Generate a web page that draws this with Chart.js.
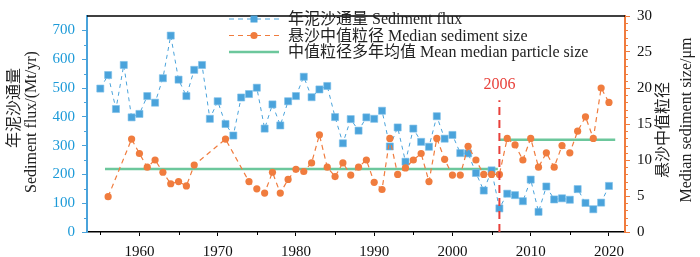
<!DOCTYPE html>
<html><head><meta charset="utf-8">
<script src="https://cdn.jsdelivr.net/npm/chart.js@4.4.0/dist/chart.umd.min.js"></script>
<style>html,body{margin:0;padding:0;background:#fff;}#wrap{width:700px;height:257px;}</style>
</head><body><div id="wrap"><canvas id="c" width="700" height="257"></canvas></div>
<script>
// ---- data ----
const years = [1955,1956,1957,1958,1959,1960,1961,1962,1963,1964,1965,1966,1967,1968,1969,1970,1971,1972,1973,1974,1975,1976,1977,1978,1979,1980,1981,1982,1983,1984,1985,1986,1987,1988,1989,1990,1991,1992,1993,1994,1995,1996,1997,1998,1999,2000,2001,2002,2003,2004,2005,2006,2007,2008,2009,2010,2011,2012,2013,2014,2015,2016,2017,2018,2019,2020];
const sedimentFlux = [498,545,427,580,398,410,472,449,534,682,529,472,563,580,393,454,375,335,467,479,501,359,443,370,454,472,539,468,495,507,399,308,392,352,398,393,421,297,363,244,359,313,296,402,324,337,274,273,205,144,214,82,133,128,107,182,70,158,113,117,112,149,101,79,102,160];
const medianSize = [null,4.9,null,null,12.9,10.9,9.0,10.0,8.3,6.7,7.0,6.4,9.3,null,null,null,12.9,null,null,7.0,6.0,5.4,8.3,5.4,7.3,8.7,8.4,9.6,13.5,9.0,7.7,9.6,7.9,9.0,10.0,6.9,5.9,13.0,8.0,8.9,10.0,10.9,7.0,13.0,10.1,7.9,7.9,11.9,10.0,8.0,8.0,8.0,13.0,12.1,10.0,13.0,9.0,11.0,9.0,12.0,11.0,14.0,16.0,13.0,20.0,18.0];
const meanEarlyYears = [1955.6, 2005.8];
const meanEarlyValue = 8.75;
const meanLateYears = [2006, 2020.8];
const meanLateValue = 12.8;
const markYear = 2006;
const markRange = [0, 18.3];
const xTickYears = [1960,1970,1980,1990,2000,2010,2020];
const leftTicks = [0,100,200,300,400,500,600,700];
const rightTicks = [0,5,10,15,20,25,30];
const legendLabels = ['年泥沙通量 Sediment flux','悬沙中值粒径 Median sediment size','中值粒径多年均值 Mean median particle size'];
const leftTitle = ['年泥沙通量','Sediment flux/(Mt/yr)'];
const rightTitle = ['悬沙中值粒径','Median sediment size/μm'];

// ---- styles ----
const BLUE = '#4aa3db', BLUE_TXT = '#1c9ad8', ORANGE = '#f07c3e', GREEN = '#6cc79c', RED = '#e8403a';
const FONT = "'Liberation Serif','Noto Sans CJK SC',serif";
Chart.defaults.font.family = FONT;
const tickFont = {family:"'Liberation Serif',serif", size:15};

const fluxPts = years.map((y,i)=>({x:y,y:sedimentFlux[i]}));
const sizePts = years.map((y,i)=>({x:y,y:medianSize[i]}));

const decor = {
  id:'decor',
  afterDraw(chart){
    const ctx = chart.ctx, a = chart.chartArea;
    const sx = chart.scales.x, sl = chart.scales.yL, sr = chart.scales.yR;
    ctx.save();
    // top border
    ctx.strokeStyle = '#000'; ctx.lineWidth = 1.5;
    ctx.beginPath(); ctx.moveTo(a.left, a.top); ctx.lineTo(a.right, a.top); ctx.stroke();
    // minor ticks
    ctx.lineWidth = 1;
    ctx.strokeStyle = BLUE;
    for (let v=50; v<750; v+=100){ const p = Math.round(sl.getPixelForValue(v))+0.5; ctx.beginPath(); ctx.moveTo(a.left-3,p); ctx.lineTo(a.left,p); ctx.stroke(); }
    ctx.strokeStyle = ORANGE;
    for (let v=1; v<30; v++){ if (v%5===0) continue; const p = Math.round(sr.getPixelForValue(v))+0.5; ctx.beginPath(); ctx.moveTo(a.right,p); ctx.lineTo(a.right+3,p); ctx.stroke(); }
    ctx.strokeStyle = '#000';
    for (let v=1955; v<=2020; v+=10){ const p = Math.round(sx.getPixelForValue(v))+0.5; ctx.beginPath(); ctx.moveTo(p,a.bottom); ctx.lineTo(p,a.bottom+3); ctx.stroke(); }
    // 2006 label
    ctx.fillStyle = RED; ctx.font = '16px '+FONT; ctx.textAlign='center'; ctx.textBaseline='middle';
    ctx.fillText(String(markYear), sx.getPixelForValue(markYear), 85);
    // legend
    const rows = [19, 35.5, 52];
    const lx0 = 229, lx1 = 279, lxm = 254;
    ctx.textAlign='left'; ctx.fillStyle='#222';
    rows.forEach((y,i)=>{
      ctx.save();
      if (i===0){ ctx.strokeStyle=BLUE; ctx.lineWidth=1.2; ctx.setLineDash([5,4]); }
      else if (i===1){ ctx.strokeStyle=ORANGE; ctx.lineWidth=1.2; ctx.setLineDash([5,4]); }
      else { ctx.strokeStyle=GREEN; ctx.lineWidth=2.5; }
      ctx.beginPath(); ctx.moveTo(lx0,y); ctx.lineTo(lx1,y); ctx.stroke();
      ctx.setLineDash([]);
      if (i===0){ ctx.fillStyle=BLUE; ctx.fillRect(lxm-3.5,y-3.5,7,7); }
      if (i===1){ ctx.fillStyle=ORANGE; ctx.beginPath(); ctx.arc(lxm,y,3.6,0,Math.PI*2); ctx.fill(); }
      ctx.restore();
      ctx.fillStyle='#222'; ctx.font='16px '+FONT; ctx.textBaseline='middle';
      ctx.fillText(legendLabels[i], 288, y+1);
    });
    // axis titles (rotated -90)
    const vtext = (t,x,y)=>{ ctx.save(); ctx.translate(x,y); ctx.rotate(-Math.PI/2); ctx.textAlign='center'; ctx.textBaseline='middle'; ctx.fillText(t,0,0); ctx.restore(); };
    ctx.fillStyle='#222'; ctx.font='16px '+FONT;
    vtext(leftTitle[0], 15, 108);
    vtext(leftTitle[1], 32, 122);
    vtext(rightTitle[0], 664, 130);
    vtext(rightTitle[1], 687, 120);
    ctx.restore();
  }
};

new Chart(document.getElementById('c'), {
  type:'line',
  data:{datasets:[
    {label:'2006', data:[{x:markYear,y:markRange[0]},{x:markYear,y:markRange[1]}], yAxisID:'yR', borderColor:RED, borderWidth:2, borderDash:[8,5], pointRadius:0, order:0},
    {label:'median', data:sizePts, yAxisID:'yR', borderColor:ORANGE, borderWidth:1.2, borderDash:[5,4], pointStyle:'circle', pointRadius:3.6, pointBackgroundColor:ORANGE, pointBorderColor:ORANGE, pointBorderWidth:0, spanGaps:true, order:1},
    {label:'flux', data:fluxPts, yAxisID:'yL', borderColor:BLUE, borderWidth:1, borderDash:[4,4], pointStyle:'rect', pointRadius:5, pointBackgroundColor:BLUE, pointBorderColor:'#7cc0ea', pointBorderWidth:0.6, order:2},
    {label:'mean1', data:[{x:meanEarlyYears[0],y:meanEarlyValue},{x:meanEarlyYears[1],y:meanEarlyValue}], yAxisID:'yR', borderColor:GREEN, borderWidth:2.5, pointRadius:0, order:3},
    {label:'mean2', data:[{x:meanLateYears[0],y:meanLateValue},{x:meanLateYears[1],y:meanLateValue}], yAxisID:'yR', borderColor:GREEN, borderWidth:2.5, pointRadius:0, order:3}
  ]},
  options:{
    responsive:false, animation:false, devicePixelRatio:1,
    layout:{padding:{top:7,left:0,right:0,bottom:0}},
    plugins:{legend:{display:false}, tooltip:{enabled:false}},
    scales:{
      x:{type:'linear', min:1953.3, max:2022.05,
        afterBuildTicks:s=>{s.ticks = xTickYears.map(v=>({value:v}));},
        afterFit:s=>{s.height=25;},
        ticks:{color:'#111', font:tickFont, padding:7, maxRotation:0, autoSkip:false, callback:v=>String(v)},
        grid:{drawOnChartArea:false, tickLength:4, tickColor:'#000', tickWidth:1},
        border:{color:'#000', width:1.5}},
      yL:{type:'linear', position:'left', min:0, max:750,
        afterBuildTicks:s=>{s.ticks = leftTicks.map(v=>({value:v}));},
        afterFit:s=>{s.width=87;},
        ticks:{color:BLUE_TXT, font:tickFont, padding:7, callback:v=>String(v)},
        grid:{drawOnChartArea:false, tickLength:5, tickColor:BLUE, tickWidth:1},
        border:{color:BLUE, width:2}},
      yR:{type:'linear', position:'right', min:0, max:30,
        afterBuildTicks:s=>{s.ticks = rightTicks.map(v=>({value:v}));},
        afterFit:s=>{s.width=75;},
        ticks:{color:'#111', font:tickFont, padding:7, callback:v=>String(v)},
        grid:{drawOnChartArea:false, tickLength:5, tickColor:ORANGE, tickWidth:1},
        border:{color:ORANGE, width:2}}
    }
  },
  plugins:[decor]
});
</script></body></html>
